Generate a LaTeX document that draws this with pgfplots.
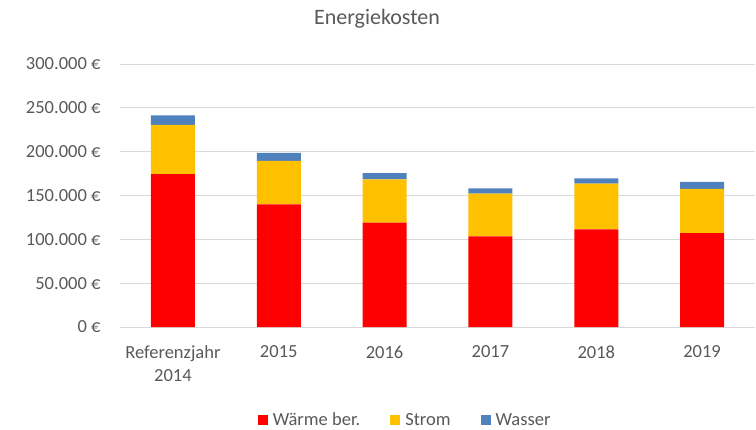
\documentclass[border=0pt]{standalone}
\usepackage{pgfplots}
\pgfplotsset{compat=1.18}
\usepackage{fontspec}
\setmainfont{Carlito}
\definecolor{txt}{HTML}{595959}
\definecolor{grd}{HTML}{D9D9D9}
\definecolor{cWarme}{HTML}{FF0000}
\definecolor{cStrom}{HTML}{FFC000}
\definecolor{cWasser}{HTML}{4F81BD}
\begin{document}
\begin{tikzpicture}
\useasboundingbox (-120bp,-103bp) rectangle (636bp,327bp);
\begin{axis}[
  at={(0,0)}, anchor=south west,
  scale only axis, width=635bp, height=263bp,
  ybar stacked, bar width=44bp,
  xmin=-0.5, xmax=5.5, ymin=0, ymax=300000,
  xtick=data,
  xticklabels={{Referenzjahr\\2014},2015,2016,2017,2018,2019},
  xticklabel style={align=center, font=\fontsize{18.5bp}{23bp}\selectfont, text=txt, yshift=-15bp},
  ytick={0,50000,100000,150000,200000,250000,300000},
  yticklabels={0 €,50.000 €,100.000 €,150.000 €,200.000 €,250.000 €,300.000 €},
  scaled y ticks=false,
  yticklabel style={font=\fontsize{18.5bp}{22bp}\selectfont, text=txt, xshift=-16bp},
  major tick length=0pt,
  axis line style={draw=none},
  ymajorgrids, grid style={grd, line width=0.75bp},
  legend style={at={(rel axis cs:0.449,-0.354)}, anchor=center, draw=none, legend columns=3,
    font=\fontsize{18.5bp}{22bp}\selectfont, text=txt,
    /tikz/every odd column/.append style={column sep=3bp},
    /tikz/every even column/.append style={column sep=28bp}},
  legend image code/.code={\fill[#1] (0bp,-5bp) rectangle (10bp,5bp);},
]
\addplot[fill=cWarme, draw=none] coordinates {(0,174500) (1,140000) (2,119000) (3,103500) (4,111500) (5,107000)};
\addplot[fill=cStrom, draw=none] coordinates {(0,56000) (1,49500) (2,49500) (3,48500) (4,52000) (5,50500)};
\addplot[fill=cWasser, draw=none] coordinates {(0,11000) (1,9000) (2,7000) (3,6000) (4,6000) (5,8000)};
\legend{Wärme ber.,Strom,Wasser}
\end{axis}
\node[text=txt, font=\fontsize{22bp}{26bp}\selectfont] at (257bp,308bp) {Energiekosten};
\end{tikzpicture}
\end{document}
